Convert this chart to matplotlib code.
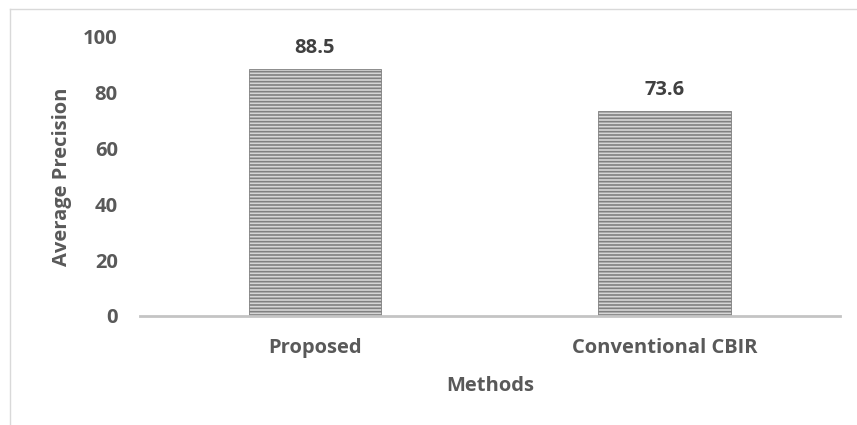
import matplotlib.pyplot as plt
from matplotlib.lines import Line2D

methods = ['Proposed', 'Conventional CBIR']
avg_precision = [88.5, 73.6]
y_ticks = [0, 20, 40, 60, 80, 100]

TEXT = '#595959'
plt.rcParams['font.family'] = ['Open Sans', 'DejaVu Sans']
plt.rcParams['font.weight'] = 'bold'
plt.rcParams['hatch.linewidth'] = 1.2

FS = 14.5

fig = plt.figure(figsize=(8.57, 4.25), dpi=100)
ax = fig.add_axes([0.1634, 0.2565, 0.8166, 0.6565])

x = range(len(methods))
bars = ax.bar(x, avg_precision, width=0.38, color='#d6d6d6',
              edgecolor='#808080', linewidth=0.6, hatch='-----', zorder=2)

for rect, val in zip(bars, avg_precision):
    ax.annotate(f'{val}', (rect.get_x() + rect.get_width() / 2, val),
                xytext=(0, 8), textcoords='offset points',
                ha='center', va='bottom', fontsize=FS, fontweight='bold', color='#404040')

ax.set_xlim(-0.5, len(methods) - 0.5)
ax.set_ylim(0, 100)
ax.set_yticks(y_ticks)
ax.set_xticks(list(x))
ax.set_xticklabels(methods)
ax.tick_params(axis='both', length=0, labelsize=FS, labelcolor=TEXT)
ax.tick_params(axis='y', pad=16)
ax.tick_params(axis='x', pad=16)

for side in ['top', 'right', 'left']:
    ax.spines[side].set_visible(False)
ax.spines['bottom'].set_color('#c4c4c4')
ax.spines['bottom'].set_linewidth(2)
ax.spines['bottom'].set_zorder(3)

ax.set_xlabel('Methods', fontsize=FS, fontweight='bold', color=TEXT, labelpad=13)
ax.set_ylabel('Average Precision', fontsize=FS, fontweight='bold', color=TEXT, labelpad=8)

# thin chart-area frame on the left and top
W, H = 857, 425
fig.add_artist(Line2D([10 / W, 10 / W], [0, 1 - 9 / H], transform=fig.transFigure,
                      color='#d9d9d9', linewidth=1))
fig.add_artist(Line2D([10 / W, 1], [1 - 9 / H, 1 - 9 / H], transform=fig.transFigure,
                      color='#d9d9d9', linewidth=1))

fig.savefig('out.png', dpi=100)
